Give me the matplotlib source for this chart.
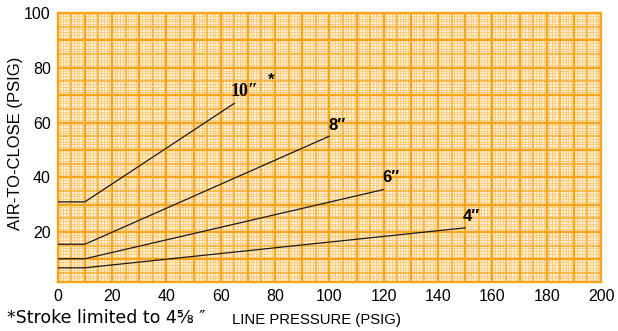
import matplotlib.pyplot as plt

plt.rcParams['font.family'] = ['Liberation Sans', 'DejaVu Sans']

# stroke curves: (line pressure, air-to-close)
stroke_10_x = [0, 10, 65]
stroke_10_y = [31, 31, 67]
stroke_8_x = [0, 10, 100]
stroke_8_y = [15.5, 15.5, 55]
stroke_6_x = [0, 10, 120]
stroke_6_y = [10.2, 10.2, 35.5]
stroke_4_x = [0, 10, 150]
stroke_4_y = [6.9, 6.9, 21.5]

curve_labels = ['10″', '8″', '6″', '4″']
label_x = [63.5, 99.5, 119.5, 149]
label_y = [71.5, 59, 39.8, 25.6]

x_ticks = list(range(0, 201, 20))
y_ticks = list(range(20, 101, 20))

fig = plt.figure(figsize=(6.18, 3.31), dpi=100)
ax = fig.add_axes([0.0934, 0.148, 0.8791, 0.8125])
ax.set_facecolor('#FFF3DC')

ax.set_xlim(0, 200)
ax.set_ylim(1.7, 100)


def grid_style(v):
    if v % 10 == 0:
        return '#F8A51C', 1.7, 0.3
    if v % 5 == 0:
        return '#F9B136', 1.2, 0.2
    return '#FCCD82', 0.7, 0.1


# graph paper: fine 1-unit, medium 5-unit, heavy 10-unit
for v in range(0, 201):
    c, w, z = grid_style(v)
    ax.axvline(v, color=c, lw=w, zorder=z)
for v in range(2, 101):
    c, w, z = grid_style(v)
    ax.axhline(v, color=c, lw=w, zorder=z)

for xs, ys in [(stroke_10_x, stroke_10_y), (stroke_8_x, stroke_8_y),
               (stroke_6_x, stroke_6_y), (stroke_4_x, stroke_4_y)]:
    ax.plot(xs, ys, color='#1a1a1a', lw=0.9, zorder=3)

for i, (txt, lx, ly) in enumerate(zip(curve_labels, label_x, label_y)):
    if i == 0:
        ax.text(lx, ly, txt, fontsize=13, fontweight='bold', va='center',
                ha='left', zorder=4,
                family=['Liberation Serif', 'DejaVu Serif'])
    else:
        ax.text(lx, ly, txt, fontsize=12, fontweight='bold', va='center',
                ha='left', zorder=4,
                family=['Liberation Sans', 'DejaVu Sans'])
ax.text(77.5, 75.5, '*', fontsize=12, fontweight='bold', va='center',
        ha='left', zorder=4)

for s in ax.spines.values():
    s.set_color('#F8A51C')
    s.set_linewidth(1.7)

ax.set_xticks(x_ticks)
ax.set_yticks(y_ticks)
ax.tick_params(length=0, labelsize=11.5, pad=5)
ax.set_ylabel('AIR-TO-CLOSE (PSIG)', fontsize=12)
ax.yaxis.set_label_coords(-0.064, 0.515)

fig.text(0.012, 0.012, '*Stroke limited to 4⅝ ″', fontsize=12.5,
         ha='left', va='bottom', family=['DejaVu Sans'])
fig.text(0.375, 0.012, 'LINE PRESSURE (PSIG)', fontsize=10.7,
         ha='left', va='bottom')

fig.savefig('out.png', dpi=100)
